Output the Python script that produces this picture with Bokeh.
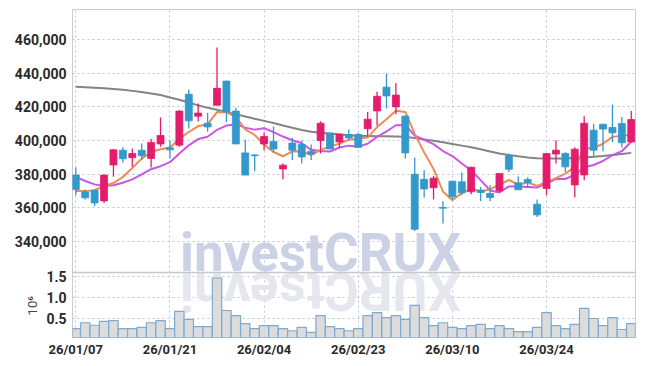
import math
from bokeh.plotting import figure
from bokeh.models import (ColumnDataSource, FixedTicker, NumeralTickFormatter, Range1d, Label, Span,
                          LinearAxis)
from bokeh.embed import file_html
from bokeh.resources import INLINE

# ---------------- data (prices in thousands of won, volume in millions) ----------------
dates = ["26/01/07", "26/01/08", "26/01/09", "26/01/12", "26/01/13", "26/01/14", "26/01/15", "26/01/16",
         "26/01/19", "26/01/20", "26/01/21", "26/01/22", "26/01/23", "26/01/26", "26/01/27", "26/01/28",
         "26/01/29", "26/01/30", "26/02/02", "26/02/03", "26/02/04", "26/02/05", "26/02/06", "26/02/09",
         "26/02/10", "26/02/11", "26/02/12", "26/02/13", "26/02/19", "26/02/20", "26/02/23", "26/02/24",
         "26/02/25", "26/02/26", "26/02/27", "26/03/03", "26/03/04", "26/03/05", "26/03/06", "26/03/09",
         "26/03/10", "26/03/11", "26/03/12", "26/03/13", "26/03/16", "26/03/17", "26/03/18", "26/03/19",
         "26/03/20", "26/03/23", "26/03/24", "26/03/25", "26/03/26", "26/03/27", "26/03/30", "26/03/31",
         "26/04/01", "26/04/02", "26/04/03", "26/04/06"]

open_k = [379.5, 369.5, 370.5, 364.2, 385.5, 394.3, 389.8, 394.3, 389.4, 398.0,
          395.7, 397.3, 427.5, 414.5, 410.3, 421.0, 435.3, 417.5, 392.7, 391.5,
          398.0, 399.5, 383.2, 398.5, 397.7, 393.7, 400.0, 404.4, 399.2, 403.6,
          403.6, 407.0, 417.6, 431.7, 420.0, 414.5, 380.0, 377.0, 372.0, 360.3,
          375.9, 375.5, 369.6, 370.6, 368.6, 370.2, 391.0, 374.9, 376.9, 362.2,
          371.5, 392.0, 392.3, 373.7, 379.6, 406.2, 409.7, 407.8, 410.1, 399.2]
high_k = [384.0, 371.0, 371.0, 380.0, 395.0, 396.0, 395.3, 398.3, 401.0, 413.7,
          400.2, 418.0, 430.3, 422.0, 416.4, 455.3, 435.5, 419.5, 400.6, 392.0,
          404.8, 408.4, 386.4, 401.6, 400.2, 397.7, 411.5, 404.6, 404.0, 406.6,
          404.6, 417.0, 429.0, 439.8, 434.0, 415.0, 390.0, 382.4, 379.0, 364.0,
          376.2, 381.0, 384.5, 372.5, 373.5, 380.5, 392.3, 378.9, 378.3, 365.0,
          392.5, 400.2, 393.0, 396.0, 414.5, 410.0, 410.0, 421.4, 414.0, 417.6]
low_k = [367.5, 365.0, 361.0, 363.0, 378.5, 387.0, 384.4, 388.4, 384.0, 396.3,
         389.4, 396.3, 407.2, 411.3, 405.2, 421.0, 411.0, 398.0, 379.5, 381.8,
         394.3, 392.7, 377.0, 388.4, 386.4, 388.4, 392.3, 395.0, 395.7, 400.2,
         396.0, 402.2, 409.0, 419.0, 415.7, 389.4, 346.4, 366.2, 365.0, 350.8,
         365.0, 367.6, 368.2, 364.2, 364.2, 369.5, 381.4, 370.8, 372.2, 354.7,
         367.6, 386.4, 381.4, 366.2, 376.5, 390.3, 393.7, 399.2, 395.9, 399.0]
close_k = [371.0, 366.0, 363.0, 379.5, 394.5, 389.2, 392.3, 391.0, 398.9, 403.0,
           394.5, 417.5, 411.7, 416.3, 408.1, 431.0, 417.0, 398.0, 379.5, 391.0,
           402.4, 395.0, 385.4, 394.3, 390.3, 392.0, 410.3, 395.0, 403.6, 401.6,
           396.0, 412.7, 426.3, 426.5, 427.0, 392.7, 347.4, 371.3, 377.7, 359.9,
           366.6, 369.0, 384.2, 369.2, 366.2, 380.5, 383.0, 370.8, 375.1, 355.9,
           392.3, 394.3, 384.4, 394.9, 410.3, 394.3, 406.8, 404.6, 398.7, 412.5]

ma5_k = [370.1, 370.0, 370.5, 373.1, 374.8, 378.4, 383.7, 389.3, 393.2, 394.9,
         395.9, 401.0, 405.1, 408.6, 409.6, 416.9, 416.8, 414.1, 406.7, 403.3,
         397.6, 393.2, 390.7, 393.6, 393.5, 391.4, 394.5, 396.4, 398.2, 400.5,
         401.3, 401.8, 408.0, 412.6, 417.7, 417.0, 404.0, 393.0, 383.2, 369.8,
         364.6, 368.9, 371.5, 369.8, 371.0, 373.8, 376.6, 373.9, 375.1, 373.1,
         375.4, 377.7, 380.4, 384.4, 395.2, 395.6, 398.1, 402.2, 402.9, 403.4]
ma10_k = [378.5, 376.0, 374.0, 373.0, 373.5, 375.0, 377.0, 380.0, 383.0, 384.8,
          387.2, 392.3, 397.2, 400.9, 402.3, 406.4, 408.9, 409.6, 407.7, 406.5,
          407.3, 405.0, 402.4, 400.2, 398.4, 394.5, 393.8, 393.5, 395.9, 397.0,
          396.4, 398.1, 402.2, 405.4, 409.1, 409.2, 402.9, 400.5, 397.9, 393.8,
          390.8, 386.4, 382.2, 376.5, 370.4, 369.2, 372.8, 372.7, 372.5, 372.1,
          374.6, 377.2, 377.2, 379.7, 384.2, 385.5, 387.9, 391.3, 393.7, 399.3]
ma60_k = [431.9, 431.7, 431.4, 431.0, 430.6, 430.1, 429.5, 428.8, 428.0, 427.0,
          425.6, 424.2, 422.6, 420.9, 419.5, 418.3, 417.0, 415.6, 414.3, 413.0,
          411.7, 410.4, 409.0, 407.6, 406.3, 405.2, 404.6, 404.2, 403.7, 403.1,
          402.8, 402.7, 402.6, 402.6, 402.4, 402.2, 401.5, 400.7, 399.9, 399.0,
          398.0, 397.0, 396.0, 394.8, 393.5, 392.3, 391.5, 390.7, 390.0, 389.5,
          389.3, 389.3, 389.4, 389.6, 390.0, 390.4, 390.9, 391.5, 392.1, 392.7]

volume_m = [0.26, 0.40, 0.34, 0.43, 0.45, 0.26, 0.26, 0.29, 0.40, 0.45,
            0.26, 0.67, 0.48, 0.31, 0.31, 1.46, 0.69, 0.57, 0.38, 0.26,
            0.33, 0.33, 0.26, 0.21, 0.29, 0.17, 0.57, 0.31, 0.26, 0.21,
            0.26, 0.57, 0.64, 0.52, 0.57, 0.48, 0.81, 0.52, 0.33, 0.40,
            0.29, 0.26, 0.33, 0.36, 0.26, 0.33, 0.26, 0.19, 0.19, 0.29,
            0.64, 0.33, 0.26, 0.36, 0.74, 0.50, 0.33, 0.52, 0.24, 0.38]

price_ticks = [340000, 360000, 380000, 400000, 420000, 440000, 460000]
volume_ticks = [0.5, 1.0, 1.5]
volume_tick_labels = ["0.5", "1.0", "1.5"]
volume_unit_label = "10⁶"
date_tick_step = 10
watermark = "investCRUX"

# ---------------- styling / layout ----------------
RED = "#e31c6c"
BLUE = "#3398cb"
GRID = "#bfc5da"
FONT = "Roboto"

PRICE_PX, VOL_PX = 263, 65              # heights of the two panels inside one frame
PRICE_LO, PRICE_HI = 321700, 477800     # visible price window (upper panel)
VOL_LO, VOL_HI = 0.05, 1.59             # visible volume window (lower panel)
FRAME_PX = PRICE_PX + VOL_PX
Y0 = PRICE_LO - (PRICE_HI - PRICE_LO) * VOL_PX / PRICE_PX
VOL_END = VOL_LO + (VOL_HI - VOL_LO) * FRAME_PX / VOL_PX
UNIT_PAD = 82                           # non-breaking spaces that move the unit label down


def vol_to_price_axis(v):
    return int(round(Y0 + (v - VOL_LO) / (VOL_END - VOL_LO) * (PRICE_HI - Y0)))


K = 1000
idx = list(range(len(dates)))
colors = [RED if c >= o else BLUE for o, c in zip(open_k, close_k)]
src = ColumnDataSource(dict(
    x=idx,
    h=[v * K for v in high_k],
    l=[v * K for v in low_k],
    top=[max(o, c) * K for o, c in zip(open_k, close_k)],
    bottom=[min(o, c) * K for o, c in zip(open_k, close_k)],
    color=colors,
    ma5=[v * K for v in ma5_k],
    ma10=[v * K for v in ma10_k],
    ma60=[v * K for v in ma60_k],
    vol=volume_m,
))

p = figure(width=640, height=366,
           x_range=Range1d(-0.35, len(dates) - 0.55), y_range=Range1d(Y0, PRICE_HI),
           output_backend="svg", toolbar_location=None,
           min_border_left=72, min_border_right=5, min_border_top=9, min_border_bottom=29,
           outline_line_color="#cccccc", background_fill_color="white")
p.extra_y_ranges = {"vol": Range1d(VOL_LO, VOL_END)}

date_ticks = idx[::date_tick_step]
vol_tick_pos = [vol_to_price_axis(t) for t in volume_ticks]
y_ticks = vol_tick_pos + price_ticks

p.xaxis.ticker = FixedTicker(ticks=date_ticks)
p.xaxis.major_label_overrides = {i: dates[i] for i in date_ticks}
p.yaxis.ticker = FixedTicker(ticks=y_ticks)
p.yaxis.formatter = NumeralTickFormatter(format="0,0")
p.yaxis.major_label_overrides = {pos: lab for pos, lab in zip(vol_tick_pos, volume_tick_labels)}
p.xgrid.ticker = FixedTicker(ticks=date_ticks)
p.ygrid.ticker = FixedTicker(ticks=y_ticks)
for g in (p.xgrid, p.ygrid):
    g.grid_line_color = GRID
    g.grid_line_dash = "2 3"
    g.grid_line_width = 1

# second (label-only) axis carrying the volume unit
unit_axis = LinearAxis(y_range_name="vol",
                       ticker=FixedTicker(ticks=[], minor_ticks=[]),
                       axis_label=volume_unit_label + "\u00a0" * UNIT_PAD, axis_label_standoff=-28,
                       axis_label_text_font=FONT, axis_label_text_font_size="13px",
                       axis_label_text_font_style="normal", axis_label_text_color="#444444",
                       axis_line_color=None, major_tick_line_color=None, minor_tick_line_color=None)
p.add_layout(unit_axis, "left")

for ax in (p.yaxis[0], p.xaxis[0]):
    ax.axis_line_color = None
    ax.major_tick_line_color = None
    ax.minor_tick_line_color = None
    ax.major_tick_out = 0
    ax.major_tick_in = 0
    ax.major_label_text_font = FONT
    ax.major_label_text_font_style = "bold"
    ax.major_label_text_color = "#2a2a2a"
    ax.major_label_text_font_size = "14px"
    ax.major_label_standoff = 6
p.xaxis.major_label_text_font_size = "13px"
p.xaxis.major_label_standoff = 4

# watermark and its reflection
wm_y = PRICE_LO + (PRICE_HI - PRICE_LO) * 20 / PRICE_PX
rf_y = PRICE_LO - (PRICE_HI - PRICE_LO) * 18 / PRICE_PX
p.add_layout(Label(x=26.0, y=wm_y, text=watermark, text_font=FONT, text_font_size="53px",
                   text_font_style="bold", text_color="#ccd2e6", text_align="center",
                   text_baseline="middle", level="underlay"))
p.add_layout(Label(x=26.0, y=rf_y, text=watermark[::-1], text_font=FONT, text_font_size="53px",
                   text_font_style="bold", text_color="#e6e6ee", text_align="center",
                   text_baseline="middle", angle=math.pi, level="underlay"))

# separator between panels
p.add_layout(Span(location=PRICE_LO, dimension="width", line_color="#c8c8c8", line_width=1.5))

# price panel
p.line("x", "ma60", source=src, line_color="#777777", line_width=2, line_alpha=0.9)
p.line("x", "ma10", source=src, line_color="#cc55e6", line_width=2)
p.line("x", "ma5", source=src, line_color="#ee8a55", line_width=2)
p.segment(x0="x", y0="h", x1="x", y1="l", source=src, line_color="color", line_width=1.3)
p.vbar(x="x", width=0.74, top="top", bottom="bottom", source=src,
       fill_color="color", line_color="color", line_width=0.8)

# volume panel
p.vbar(x="x", width=1.0, top="vol", bottom=0, source=src, y_range_name="vol",
       fill_color="#d6d6d6", fill_alpha=0.85, line_color="#7eaad0", line_width=1.2)

open("out.html", "w").write(file_html(p, INLINE))
